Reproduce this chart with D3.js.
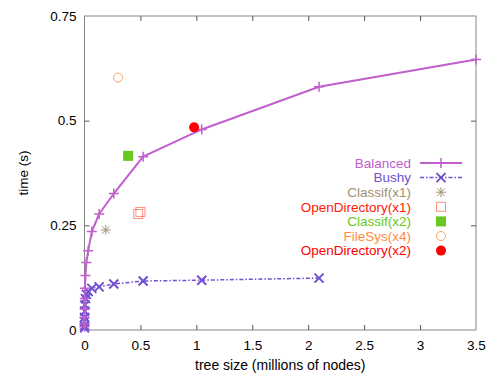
<!DOCTYPE html>
<html>
<head>
<meta charset="utf-8">
<script src="https://cdn.jsdelivr.net/npm/d3@7"></script>
<style>
  body { margin: 0; background: #fff; }
  text { font-family: "Liberation Sans", Arial, sans-serif; }
</style>
</head>
<body>
<script>
// tree size in millions of nodes, time in seconds
let balancedSize = [0.00013, 0.00026, 0.0005, 0.001, 0.002, 0.0041, 0.0082, 0.0164, 0.0328, 0.0655, 0.131, 0.262, 0.524, 1.048, 2.097, 3.5];
let balancedTime = [0.008, 0.015, 0.03, 0.05, 0.075, 0.10, 0.13, 0.161, 0.189, 0.235, 0.277, 0.326, 0.414, 0.479, 0.581, 0.646];

let bushySize = [0.00013, 0.00026, 0.0005, 0.001, 0.002, 0.0041, 0.0082, 0.0164, 0.0328, 0.0655, 0.131, 0.262, 0.524, 1.048, 2.097];
let bushyTime = [0.005, 0.01, 0.02, 0.03, 0.045, 0.06, 0.075, 0.085, 0.092, 0.0995, 0.103, 0.110, 0.117, 0.119, 0.124];

let extraNames = ["Classif(x1)", "OpenDirectory(x1)", "Classif(x2)", "FileSys(x4)", "OpenDirectory(x2)"];
let extraSize = [[0.19], [0.48, 0.50], [0.39], [0.30], [0.98]];
let extraTime = [[0.239], [0.277, 0.282], [0.416], [0.603], [0.484]];

let xTicks = [0, 0.5, 1, 1.5, 2, 2.5, 3, 3.5];
let yTicks = [0, 0.25, 0.5, 0.75];

let W = 494, H = 375;
let margin = {top: 16, right: 18, bottom: 45, left: 84.5};
let width = W - margin.left - margin.right,
    height = H - margin.top - margin.bottom;

let balancedColor = "#c060cc",
    bushyColor = "#7050d0";
let extraColors = ["#a09070", "#ff2000", "#66c820", "#ff8c40", "#ff0000"];

let svg = d3.select("body").append("svg")
    .attr("width", W)
    .attr("height", H);

let g = svg.append("g")
    .attr("transform", `translate(${margin.left}, ${margin.top})`);

let xScaler = d3.scaleLinear().domain([0, 3.5]).range([0, width]);
let yScaler = d3.scaleLinear().domain([0, 0.75]).range([height, 0]);

// border box
g.append("rect")
    .attr("width", width).attr("height", height)
    .attr("fill", "none").attr("stroke", "#888").attr("stroke-width", 1);

// axes, ticks pointing inward, mirrored on top/right
let fmt = d => d === 0 ? "0" : String(d);
let axes = [
    g.append("g").attr("transform", `translate(0,${height})`)
        .call(d3.axisBottom(xScaler).tickValues(xTicks).tickFormat(fmt).tickSizeInner(-5).tickSizeOuter(0).tickPadding(10)),
    g.append("g")
        .call(d3.axisTop(xScaler).tickValues(xTicks).tickFormat("").tickSizeInner(-5).tickSizeOuter(0)),
    g.append("g")
        .call(d3.axisLeft(yScaler).tickValues(yTicks).tickFormat(fmt).tickSizeInner(-5).tickSizeOuter(0).tickPadding(8)),
    g.append("g").attr("transform", `translate(${width},0)`)
        .call(d3.axisRight(yScaler).tickValues(yTicks).tickFormat("").tickSizeInner(-5).tickSizeOuter(0))
];
axes.forEach(a => {
    a.select(".domain").remove();
    a.selectAll(".tick line").attr("stroke", "#555");
    a.selectAll(".tick text").attr("font-size", 13.5).attr("fill", "#000")
        .style("font-family", "'Liberation Sans', Arial, sans-serif");
});
// hide edge ticks that sit on the border corners
axes.forEach(a => a.selectAll(".tick").filter(d => d === 0 || d === 3.5 || d === 0.75).select("line").remove());

svg.append("text")
    .attr("x", margin.left + width / 2 + 0).attr("y", 370)
    .attr("text-anchor", "middle").attr("font-size", 14)
    .text("tree size (millions of nodes)");

svg.append("text")
    .attr("transform", `translate(28, 173) rotate(-90)`)
    .attr("text-anchor", "middle").attr("font-size", 13.5)
    .text("time (s)");

// marker shapes
function plus(sel, s) {
    sel.append("path").attr("d", `M${-s},0H${s}M0,${-s}V${s}`);
}
function cross(sel, s) {
    sel.append("path").attr("d", `M${-s},${-s}L${s},${s}M${-s},${s}L${s},${-s}`);
}
function star(sel, s) {
    sel.append("path").attr("d", `M${-s},0H${s}M0,${-s}V${s}M${-s*0.75},${-s*0.75}L${s*0.75},${s*0.75}M${-s*0.75},${s*0.75}L${s*0.75},${-s*0.75}`);
}

let balanced = balancedSize.map((s, i) => ({x: s, y: balancedTime[i]}));
let bushy = bushySize.map((s, i) => ({x: s, y: bushyTime[i]}));

let lineMaker = d3.line().x(d => xScaler(d.x)).y(d => yScaler(d.y));

g.append("path").datum(bushy)
    .attr("d", lineMaker).attr("fill", "none")
    .attr("stroke", bushyColor).attr("stroke-width", 1.5)
    .attr("stroke-dasharray", "4,2,1.5,2");

g.selectAll(".bushy").data(bushy).enter().append("g")
    .attr("transform", d => `translate(${xScaler(d.x)},${yScaler(d.y)})`)
    .attr("stroke", bushyColor).attr("stroke-width", 2)
    .each(function () { cross(d3.select(this), 4.5); });

g.append("path").datum(balanced)
    .attr("d", lineMaker).attr("fill", "none")
    .attr("stroke", balancedColor).attr("stroke-width", 2);

g.selectAll(".bal").data(balanced).enter().append("g")
    .attr("transform", d => `translate(${xScaler(d.x)},${yScaler(d.y)})`)
    .attr("stroke", balancedColor).attr("stroke-width", 1.5)
    .each(function () { plus(d3.select(this), 5); });

// extra single points
let drawExtra = [
    (sel, c) => { sel.attr("stroke", c).attr("stroke-width", 1); star(sel, 5); },
    (sel, c) => { sel.append("rect").attr("x", -4.5).attr("y", -4.5).attr("width", 9).attr("height", 9)
                    .attr("fill", "none").attr("stroke", c).attr("stroke-opacity", 0.5); },
    (sel, c) => { sel.append("rect").attr("x", -5).attr("y", -5).attr("width", 10).attr("height", 10).attr("fill", c); },
    (sel, c) => { sel.append("circle").attr("r", 4.5).attr("fill", "none").attr("stroke", c).attr("stroke-opacity", 0.8); },
    (sel, c) => { sel.append("circle").attr("r", 5).attr("fill", c); }
];

extraNames.forEach((name, k) => {
    extraSize[k].forEach((s, j) => {
        let m = g.append("g").attr("transform", `translate(${xScaler(s)},${yScaler(extraTime[k][j])})`);
        drawExtra[k](m, extraColors[k]);
    });
});

// legend
let legendNames = ["Balanced", "Bushy"].concat(extraNames);
let legendColors = [balancedColor, bushyColor].concat(extraColors);
let legend = svg.append("g");
legendNames.forEach((name, i) => {
    let yy = 163 + i * 14.6;
    legend.append("text")
        .attr("x", 411).attr("y", yy).attr("dy", "0.35em")
        .attr("text-anchor", "end").attr("font-size", 13.5)
        .attr("fill", legendColors[i]).text(name);
    let m = legend.append("g").attr("transform", `translate(441,${yy})`);
    if (i === 0) {
        legend.append("line").attr("x1", 420).attr("x2", 462).attr("y1", yy).attr("y2", yy)
            .attr("stroke", balancedColor).attr("stroke-width", 2);
        m.attr("stroke", balancedColor).attr("stroke-width", 1.5);
        plus(m, 5);
    } else if (i === 1) {
        legend.append("line").attr("x1", 420).attr("x2", 462).attr("y1", yy).attr("y2", yy)
            .attr("stroke", bushyColor).attr("stroke-width", 1.5).attr("stroke-dasharray", "4,2,1.5,2");
        m.attr("stroke", bushyColor).attr("stroke-width", 2);
        cross(m, 4.5);
    } else {
        drawExtra[i - 2](m, extraColors[i - 2]);
    }
});
</script>
</body>
</html>
